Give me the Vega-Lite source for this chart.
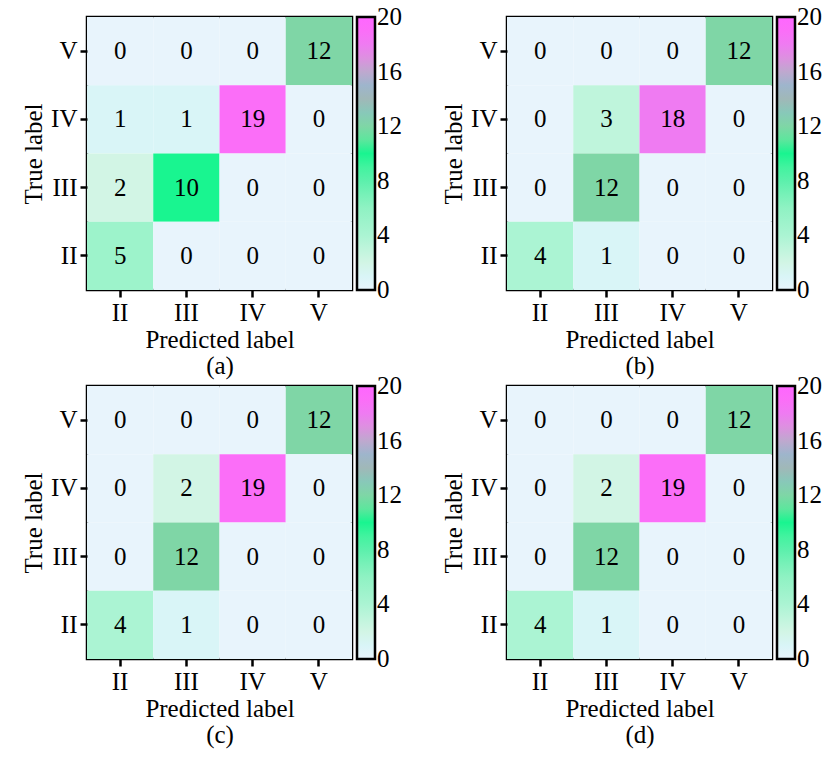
{
  "$schema": "https://vega.github.io/schema/vega-lite/v6.json",
  "background": "white",
  "padding": {"left": 20, "top": 15, "right": 0, "bottom": 0},
  "datasets": {
    "a": [
      {"t":"V","pr":"II","v":0},{"t":"V","pr":"III","v":0},{"t":"V","pr":"IV","v":0},{"t":"V","pr":"V","v":12},
      {"t":"IV","pr":"II","v":1},{"t":"IV","pr":"III","v":1},{"t":"IV","pr":"IV","v":19},{"t":"IV","pr":"V","v":0},
      {"t":"III","pr":"II","v":2},{"t":"III","pr":"III","v":10},{"t":"III","pr":"IV","v":0},{"t":"III","pr":"V","v":0},
      {"t":"II","pr":"II","v":5},{"t":"II","pr":"III","v":0},{"t":"II","pr":"IV","v":0},{"t":"II","pr":"V","v":0}
    ],
    "b": [
      {"t":"V","pr":"II","v":0},{"t":"V","pr":"III","v":0},{"t":"V","pr":"IV","v":0},{"t":"V","pr":"V","v":12},
      {"t":"IV","pr":"II","v":0},{"t":"IV","pr":"III","v":3},{"t":"IV","pr":"IV","v":18},{"t":"IV","pr":"V","v":0},
      {"t":"III","pr":"II","v":0},{"t":"III","pr":"III","v":12},{"t":"III","pr":"IV","v":0},{"t":"III","pr":"V","v":0},
      {"t":"II","pr":"II","v":4},{"t":"II","pr":"III","v":1},{"t":"II","pr":"IV","v":0},{"t":"II","pr":"V","v":0}
    ],
    "c": [
      {"t":"V","pr":"II","v":0},{"t":"V","pr":"III","v":0},{"t":"V","pr":"IV","v":0},{"t":"V","pr":"V","v":12},
      {"t":"IV","pr":"II","v":0},{"t":"IV","pr":"III","v":2},{"t":"IV","pr":"IV","v":19},{"t":"IV","pr":"V","v":0},
      {"t":"III","pr":"II","v":0},{"t":"III","pr":"III","v":12},{"t":"III","pr":"IV","v":0},{"t":"III","pr":"V","v":0},
      {"t":"II","pr":"II","v":4},{"t":"II","pr":"III","v":1},{"t":"II","pr":"IV","v":0},{"t":"II","pr":"V","v":0}
    ],
    "d": [
      {"t":"V","pr":"II","v":0},{"t":"V","pr":"III","v":0},{"t":"V","pr":"IV","v":0},{"t":"V","pr":"V","v":12},
      {"t":"IV","pr":"II","v":0},{"t":"IV","pr":"III","v":2},{"t":"IV","pr":"IV","v":19},{"t":"IV","pr":"V","v":0},
      {"t":"III","pr":"II","v":0},{"t":"III","pr":"III","v":12},{"t":"III","pr":"IV","v":0},{"t":"III","pr":"V","v":0},
      {"t":"II","pr":"II","v":4},{"t":"II","pr":"III","v":1},{"t":"II","pr":"IV","v":0},{"t":"II","pr":"V","v":0}
    ]
  },
  "columns": 2,
  "spacing": {"column": 36, "row": 4},
  "resolve": {"scale": {"color": "independent"}, "legend": {"color": "independent"}},
  "concat": [
    {
      "data": {"name": "a"},
      "width": 265, "height": 273,
      "encoding": {
        "x": {"field": "pr", "type": "nominal", "sort": ["II","III","IV","V"], "title": ["Predicted label", "(a)"]},
        "y": {"field": "t", "type": "nominal", "sort": ["V","IV","III","II"], "title": "True label"}
      },
      "layer": [
        {"mark": {"type": "rect"}, "encoding": {"color": {"field": "v", "type": "quantitative",
          "scale": {"domain": [0,2,4,6,8,10,12,14,16,17,18,19,20], "range": ["#e8f4fc","#d2f5e5","#abf4d3","#8ff2c3","#5cf0ac","#19f590","#7fd6a6","#a0b8b8","#bfa8cf","#dd90e0","#ef7bf2","#fb6ef8","#ff66ff"]},
          "legend": {"title": null, "values": [0,4,8,12,16,20], "encode": {"labels": {"update": {"baseline": {"value": "middle"}}}}}}}},
        {"mark": {"type": "text"}, "encoding": {"text": {"field": "v", "type": "quantitative"}}}
      ]
    },
    {
      "data": {"name": "b"},
      "width": 265, "height": 273,
      "encoding": {
        "x": {"field": "pr", "type": "nominal", "sort": ["II","III","IV","V"], "title": ["Predicted label", "(b)"]},
        "y": {"field": "t", "type": "nominal", "sort": ["V","IV","III","II"], "title": "True label"}
      },
      "layer": [
        {"mark": {"type": "rect"}, "encoding": {"color": {"field": "v", "type": "quantitative",
          "scale": {"domain": [0,2,4,6,8,10,12,14,16,17,18,19,20], "range": ["#e8f4fc","#d2f5e5","#abf4d3","#8ff2c3","#5cf0ac","#19f590","#7fd6a6","#a0b8b8","#bfa8cf","#dd90e0","#ef7bf2","#fb6ef8","#ff66ff"]},
          "legend": {"title": null, "values": [0,4,8,12,16,20], "encode": {"labels": {"update": {"baseline": {"value": "middle"}}}}}}}},
        {"mark": {"type": "text"}, "encoding": {"text": {"field": "v", "type": "quantitative"}}}
      ]
    },
    {
      "data": {"name": "c"},
      "width": 265, "height": 273,
      "encoding": {
        "x": {"field": "pr", "type": "nominal", "sort": ["II","III","IV","V"], "title": ["Predicted label", "(c)"]},
        "y": {"field": "t", "type": "nominal", "sort": ["V","IV","III","II"], "title": "True label"}
      },
      "layer": [
        {"mark": {"type": "rect"}, "encoding": {"color": {"field": "v", "type": "quantitative",
          "scale": {"domain": [0,2,4,6,8,10,12,14,16,17,18,19,20], "range": ["#e8f4fc","#d2f5e5","#abf4d3","#8ff2c3","#5cf0ac","#19f590","#7fd6a6","#a0b8b8","#bfa8cf","#dd90e0","#ef7bf2","#fb6ef8","#ff66ff"]},
          "legend": {"title": null, "values": [0,4,8,12,16,20], "encode": {"labels": {"update": {"baseline": {"value": "middle"}}}}}}}},
        {"mark": {"type": "text"}, "encoding": {"text": {"field": "v", "type": "quantitative"}}}
      ]
    },
    {
      "data": {"name": "d"},
      "width": 265, "height": 273,
      "encoding": {
        "x": {"field": "pr", "type": "nominal", "sort": ["II","III","IV","V"], "title": ["Predicted label", "(d)"]},
        "y": {"field": "t", "type": "nominal", "sort": ["V","IV","III","II"], "title": "True label"}
      },
      "layer": [
        {"mark": {"type": "rect"}, "encoding": {"color": {"field": "v", "type": "quantitative",
          "scale": {"domain": [0,2,4,6,8,10,12,14,16,17,18,19,20], "range": ["#e8f4fc","#d2f5e5","#abf4d3","#8ff2c3","#5cf0ac","#19f590","#7fd6a6","#a0b8b8","#bfa8cf","#dd90e0","#ef7bf2","#fb6ef8","#ff66ff"]},
          "legend": {"title": null, "values": [0,4,8,12,16,20], "encode": {"labels": {"update": {"baseline": {"value": "middle"}}}}}}}},
        {"mark": {"type": "text"}, "encoding": {"text": {"field": "v", "type": "quantitative"}}}
      ]
    }
  ],
  "config": {
    "font": "Liberation Serif",
    "view": {"stroke": "black", "strokeWidth": 2.5},
    "text": {"font": "Liberation Serif", "fontSize": 25, "color": "black"},
    "axis": {
      "domain": false, "grid": false,
      "labelFont": "Liberation Serif", "labelFontSize": 25, "labelColor": "black", "labelAngle": 0, "labelPadding": 3,
      "titleFont": "Liberation Serif", "titleFontSize": 25, "titleFontWeight": "normal", "titleColor": "black",
      "tickColor": "black", "tickWidth": 2.5, "tickSize": 7
    },
    "axisX": {"titlePadding": 2, "titleLineHeight": 26},
    "axisY": {"titlePadding": 4},
    "legend": {
      "orient": "right", "offset": 5, "direction": "vertical",
      "gradientLength": 273, "gradientThickness": 18, "gradientStrokeColor": "black", "gradientStrokeWidth": 2.5,
      "labelFont": "Liberation Serif", "labelFontSize": 25, "labelColor": "black", "labelOffset": 8, "labelBaseline": "middle"
    }
  }
}
